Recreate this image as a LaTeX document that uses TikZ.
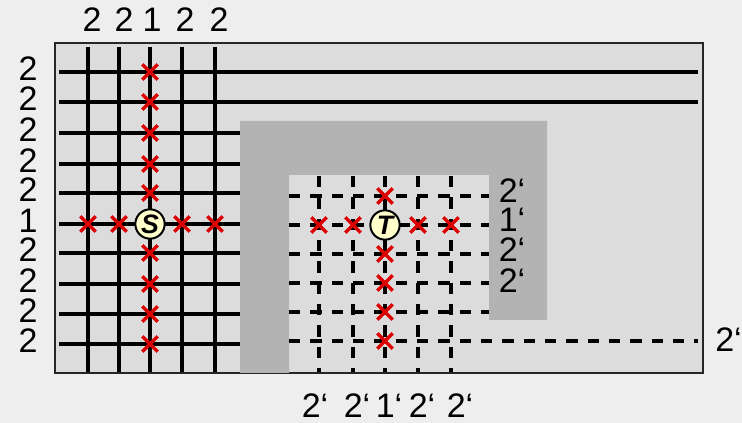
\documentclass[tikz,border=0pt]{standalone}
\usepackage{fontspec}
\setmainfont{Liberation Sans}
\usetikzlibrary{shapes.misc}
\definecolor{bgc}{HTML}{EEEEEE}
\definecolor{boxc}{HTML}{DCDCDC}
\definecolor{wallc}{HTML}{B3B3B3}
\definecolor{xred}{HTML}{DD0000}
\definecolor{termc}{HTML}{FFFFCC}
\begin{document}
\begin{tikzpicture}[x=0.75pt,y=-0.75pt,
  gridline/.style={line width=2.4pt,black},
  dgridline/.style={line width=2.4pt,black,dash pattern=on 8.5pt off 7.5pt},
  rx/.style={cross out,draw=xred,line width=2.5pt,minimum size=9pt,inner sep=0pt},
  lbl/.style={font=\fontsize{25.5}{28}\selectfont,anchor=base,inner sep=0pt,text height=18pt,text depth=0pt},
  term/.style={circle,draw=black,line width=1.5pt,fill=termc,minimum size=22pt,inner sep=0pt,font=\fontsize{20}{20}\selectfont\bfseries\itshape}]
\useasboundingbox (0,0) rectangle (742,423);
\fill[bgc] (0,0) rectangle (742,423);
% outer box
\draw[fill=boxc,draw=black!85,line width=1.5pt] (55,43) rectangle (703,373);
% left solid grid
\foreach \x in {88,119,150,182,215} \draw[gridline] (\x,47) -- (\x,372);
\foreach \y in {72,102} \draw[gridline] (59,\y) -- (698,\y);
\foreach \y in {133,164,193,224,253,284,314,344} \draw[gridline] (59,\y) -- (240,\y);
% wall
\fill[wallc] (240,373) -- (240,121) -- (547,121) -- (547,320) -- (489,320) -- (489,175) -- (289,175) -- (289,373) -- cycle;
% right dashed grid
\foreach \x in {319,353,385,418,451} \draw[dgridline] (\x,176) -- (\x,372);
\foreach \y in {196,225,254,283,312} \draw[dgridline] (289,\y) -- (489,\y);
\draw[dgridline] (289,341) -- (698,341);
% source
\node[term] (S) at (150,224) {S};
\foreach \y [count=\i] in {72,102,133,164,193,253,284,314,344} \node[rx] (sv\i) at (150,\y) {};
\foreach \x [count=\i] in {88,119,182,215} \node[rx] (sh\i) at (\x,224) {};
% target
\node[rx] (tv1) at (385,196) {};
\node[rx] (th3) at (418,225) {};
\draw[gridline] (tv1) -- (385,211);
\draw[gridline] (th3) -- (400,225);
\node[term] (T) at (385,225) {T};
\foreach \y [count=\i] in {254,283,312,341} \node[rx] (tw\i) at (385,\y) {};
\foreach \x [count=\i] in {319,353,451} \node[rx] (tx\i) at (\x,225) {};
% labels top
\foreach \x/\t [count=\i] in {92/2,124/2,152/1,185/2,219/2} \node[lbl] (top\i) at (\x,32) {\t};
% labels left
\foreach \y/\t [count=\i] in {72/2,102/2,133/2,164/2,193/2,224/1,253/2,284/2,314/2,344/2} \node[lbl] (lft\i) at (28,\y+8.5) {\t};
% labels right
\foreach \y/\t [count=\i] in {203/2,232/1,262/2,293/2} \node[lbl] (rgt\i) at (512,\y) {\t‘};
\node[lbl,anchor=base west] (far) at (715,352) {2‘};
% labels bottom
\foreach \x/\t [count=\i] in {315/2,357/2,389/1,422/2,460/2} \node[lbl] (bot\i) at (\x,418) {\t‘};
\end{tikzpicture}
\end{document}
